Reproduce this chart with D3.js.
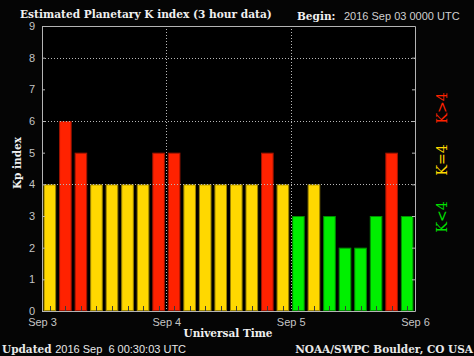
<!DOCTYPE html>
<html><head><meta charset="utf-8">
<script src="https://cdn.jsdelivr.net/npm/d3@7"></script>
<style>
html,body{margin:0;padding:0;background:#050505;}
svg{display:block;}
</style></head>
<body>
<script>
// ---- data ----
const days = ["Sep 3","Sep 4","Sep 5","Sep 6"];
const kpValues = [4,6,5,4,4,4,4,5, 5,4,4,4,4,4,5,4, 3,4,3,2,2,3,5,3];
const yTicks = [0,1,2,3,4,5,6,7,8,9];
const gridY = [4,6,8];
const legendItems = ["K>4","K=4","K<4"];

(function(){
const W = 474, H = 356;
const pLeft = 42, pRight = 415, pTop = 26, pBottom = 311;

const svg = d3.select("body").append("svg").attr("width", W).attr("height", H);
svg.append("rect").attr("width", W).attr("height", H).attr("fill", "#050505");

const x = d3.scaleBand().domain(d3.range(kpValues.length)).range([pLeft, pRight]).paddingInner(0.19).paddingOuter(0.1);
const xd = d3.scalePoint().domain(days).range([pLeft, pRight]);
const y = d3.scaleLinear().domain([0, 9]).range([pBottom, pTop]);

const fill = v => v > 4 ? "#ff2200" : v === 4 ? "#ffd800" : "#00f000";
const stroke = v => v > 4 ? "#a01400" : v === 4 ? "#9a8200" : "#009000";

svg.append("rect").attr("x", pLeft).attr("y", pTop).attr("width", pRight-pLeft).attr("height", pBottom-pTop).attr("fill", "#000");

svg.append("g").selectAll("rect").data(kpValues).join("rect")
  .attr("x", (d,i) => x(i)+0.5)
  .attr("y", d => y(d)+0.5)
  .attr("width", x.bandwidth()-1)
  .attr("height", d => y(0)-y(d)-1)
  .attr("fill", fill)
  .attr("stroke", stroke).attr("stroke-width", 1);

svg.append("g").selectAll("line").data(kpValues).join("line")
  .attr("x1", (d,i) => Math.round(x(i)+x.bandwidth()/2)+0.5)
  .attr("x2", (d,i) => Math.round(x(i)+x.bandwidth()/2)+0.5)
  .attr("y1", pBottom-5).attr("y2", pBottom)
  .attr("stroke", "#3a3a3a");

const grid = svg.append("g").attr("stroke", "#b8b8b8").attr("stroke-dasharray", "1,2");
grid.selectAll("line.h").data(gridY).join("line").attr("class","h")
  .attr("x1", pLeft).attr("x2", pRight)
  .attr("y1", d => Math.round(y(d))+0.5).attr("y2", d => Math.round(y(d))+0.5);
grid.selectAll("line.v").data(days.slice(1,3)).join("line").attr("class","v")
  .attr("y1", pTop).attr("y2", pBottom)
  .attr("x1", d => Math.round(xd(d))+0.5).attr("x2", d => Math.round(xd(d))+0.5);

const axL = d3.axisLeft(y).tickValues(yTicks).tickSizeInner(-3).tickSizeOuter(0).tickPadding(7);
const gL = svg.append("g").attr("transform", `translate(${pLeft},0)`).call(axL);
const axR = d3.axisRight(y).tickValues(yTicks).tickSizeInner(-3).tickSizeOuter(0).tickFormat("");
const gR = svg.append("g").attr("transform", `translate(${pRight},0)`).call(axR);
const axB = d3.axisBottom(xd).tickSize(0).tickPadding(6);
const gB = svg.append("g").attr("transform", `translate(0,${pBottom})`).call(axB);
const axT = d3.axisTop(xd).tickSize(0).tickFormat("");
const gT = svg.append("g").attr("transform", `translate(0,${pTop})`).call(axT);
[gL,gR,gB,gT].forEach(g => {
  g.selectAll("path,line").attr("stroke", "#b4b4b4");
  g.selectAll("text").attr("fill", "#c4c4c4").style("font-family", "Liberation Sans, Arial, sans-serif").style("font-size", "11px");
});
gB.selectAll("text").attr("dy", "0.85em");

const serif = "DejaVu Serif, serif";
svg.append("text").attr("x", 20).attr("y", 18).text("Estimated Planetary K index (3 hour data)")
  .attr("fill", "#f0f0f0").style("font-family", serif).style("font-weight", "bold").style("font-size", "10.6px");
svg.append("text").attr("x", 297).attr("y", 20).text("Begin:")
  .attr("fill", "#f0f0f0").style("font-family", serif).style("font-weight", "bold").style("font-size", "10.5px");
svg.append("text").attr("x", 344).attr("y", 20).text("2016 Sep 03 0000 UTC")
  .attr("fill", "#d0d0d0").style("font-family", "Liberation Sans, Arial, sans-serif").style("font-size", "11px");

svg.append("text").attr("transform", "translate(21,163) rotate(-90)").attr("text-anchor", "middle").text("Kp index")
  .attr("fill", "#f0f0f0").style("font-family", serif).style("font-weight", "bold").style("font-size", "10.5px");
svg.append("text").attr("x", 228).attr("y", 337).attr("text-anchor", "middle").text("Universal Time")
  .attr("fill", "#f0f0f0").style("font-family", serif).style("font-weight", "bold").style("font-size", "10.5px");

const upd = svg.append("text").attr("x", 2).attr("y", 353).attr("fill", "#e8e8e8");
upd.append("tspan").text("Updated ").style("font-family", serif).style("font-weight", "bold").style("font-size", "10.5px");
upd.append("tspan").text("2016 Sep \u00a06 00:30:03 UTC").style("font-family", "Liberation Sans, Arial, sans-serif").style("font-size", "11px");
svg.append("text").attr("x", 473).attr("y", 353).attr("text-anchor", "end").text("NOAA/SWPC Boulder, CO USA")
  .attr("fill", "#e8e8e8").style("font-family", serif).style("font-weight", "bold").style("font-size", "10.5px");

const legendColors = ["#ff2200", "#ffd800", "#00e000"];
const legendY = [108, 160, 217];
svg.append("g").selectAll("text").data(legendItems).join("text")
  .attr("transform", (d,i) => `translate(447,${legendY[i]}) rotate(-90)`)
  .attr("text-anchor", "middle")
  .attr("fill", (d,i) => legendColors[i])
  .style("font-family", serif).style("font-size", "14px")
  .text(d => d);
})();
</script>
</body></html>
